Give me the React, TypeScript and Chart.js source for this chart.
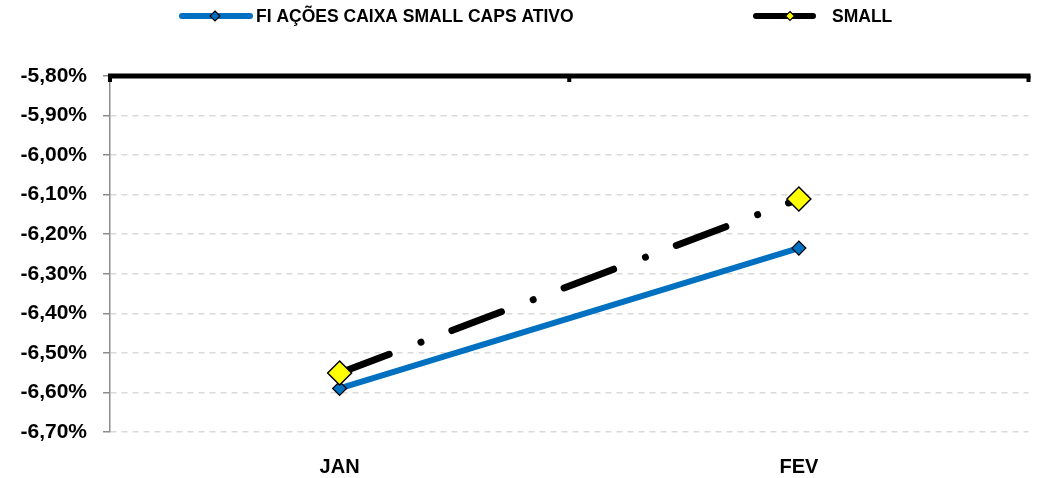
import React, { useEffect, useRef } from "react";
import { Chart, registerables } from "chart.js";

Chart.register(...registerables);

const categories = ["JAN", "FEV"];
const fundName = "FI AÇÕES CAIXA SMALL CAPS ATIVO";
const indexName = "SMALL";
const fundValues = [-6.59, -6.235];
const smallValues = [-6.551, -6.111];
const yMin = -6.7;
const yMax = -5.8;
const yStep = 0.1;

const BLUE = "#0070C0";
const FONT = '"Liberation Sans", Arial, sans-serif';

const overlayPlugin = {
  id: "overlay",
  afterDraw(chart: any) {
    const { ctx, chartArea, scales } = chart;
    const x = scales.x;
    ctx.save();
    // top category axis line (thick black)
    const top = chartArea.top;
    ctx.fillStyle = "#000";
    ctx.fillRect(chartArea.left - 2, top - 2.5, chartArea.right - chartArea.left + 4, 5);
    for (let i = 0; i <= categories.length; i++) {
      const px = x.getPixelForValue(i - 0.5);
      ctx.fillRect(px - 2, top, 4, 6);
    }
    // legend
    const ly = 16;
    ctx.strokeStyle = BLUE;
    ctx.lineWidth = 6;
    ctx.lineCap = "round";
    ctx.beginPath();
    ctx.moveTo(182, ly);
    ctx.lineTo(250, ly);
    ctx.stroke();
    const diamond = (cx: number, cy: number, r: number, fill: string) => {
      ctx.beginPath();
      ctx.moveTo(cx, cy - r);
      ctx.lineTo(cx + r, cy);
      ctx.lineTo(cx, cy + r);
      ctx.lineTo(cx - r, cy);
      ctx.closePath();
      ctx.fillStyle = fill;
      ctx.fill();
      ctx.lineWidth = 1.2;
      ctx.strokeStyle = "#000";
      ctx.stroke();
    };
    diamond(215, ly, 5, BLUE);
    ctx.strokeStyle = "#000";
    ctx.lineWidth = 6;
    ctx.beginPath();
    ctx.moveTo(756, ly);
    ctx.lineTo(813, ly);
    ctx.stroke();
    diamond(790, ly, 4.5, "#FFFF00");
    ctx.fillStyle = "#000";
    ctx.font = "bold 17.5px " + FONT;
    ctx.textBaseline = "middle";
    ctx.textAlign = "left";
    ctx.fillText(fundName, 256, ly + 1);
    ctx.fillText(indexName, 832, ly + 1);
    ctx.restore();
  },
};

export default function App() {
  const ref = useRef<HTMLCanvasElement | null>(null);
  useEffect(() => {
    if (!ref.current) return;
    const chart = new Chart(ref.current, {
      type: "line",
      data: {
        labels: categories,
        datasets: [
          {
            label: fundName,
            data: fundValues,
            borderColor: BLUE,
            backgroundColor: BLUE,
            borderWidth: 6,
            tension: 0,
            pointStyle: "rectRot",
            pointRadius: 7,
            pointHoverRadius: 7,
            pointBackgroundColor: BLUE,
            pointBorderColor: "#000",
            pointBorderWidth: 1.2,
            order: 1,
          },
          {
            label: indexName,
            data: smallValues,
            borderColor: "#000",
            backgroundColor: "#000",
            borderWidth: 7,
            borderDash: [53, 34, 0.01, 33],
            borderCapStyle: "round",
            tension: 0,
            pointStyle: "rectRot",
            pointRadius: 12,
            pointHoverRadius: 12,
            pointBackgroundColor: "#FFFF00",
            pointBorderColor: "#000",
            pointBorderWidth: 1.5,
            order: 0,
          },
        ],
      },
      options: {
        animation: false,
        responsive: true,
        maintainAspectRatio: false,
        layout: { padding: { top: 76, right: 12, bottom: 0, left: 0 } },
        plugins: {
          legend: { display: false },
          tooltip: { enabled: false },
        },
        scales: {
          x: {
            type: "category",
            offset: true,
            grid: { display: false, drawTicks: false },
            border: { display: false },
            ticks: {
              color: "#000",
              font: { family: FONT, size: 20, weight: "bold" },
              padding: 23,
            },
            afterFit: (s: any) => {
              s.height = 46;
            },
          },
          y: {
            min: yMin,
            max: yMax,
            grid: {
              color: "#d9d9d9",
              lineWidth: 1.5,
              tickColor: "#8c8c8c",
              tickLength: 7,
              tickWidth: 1.5,
            },
            border: { display: true, color: "#8c8c8c", width: 1.5, dash: [6, 5] },
            ticks: {
              stepSize: yStep,
              color: "#000",
              font: { family: FONT, size: 21, weight: "bold" },
              padding: 16,
              callback: (v: any) => Number(v).toFixed(2).replace(".", ",") + "%",
            },
            afterFit: (s: any) => {
              s.width = 110;
            },
          },
        },
      },
      plugins: [overlayPlugin],
    });
    return () => chart.destroy();
  }, []);
  return (
    <div style={{ position: "fixed", left: 0, top: 0, width: 1042, height: 478 }}>
      <canvas ref={ref} />
    </div>
  );
}
